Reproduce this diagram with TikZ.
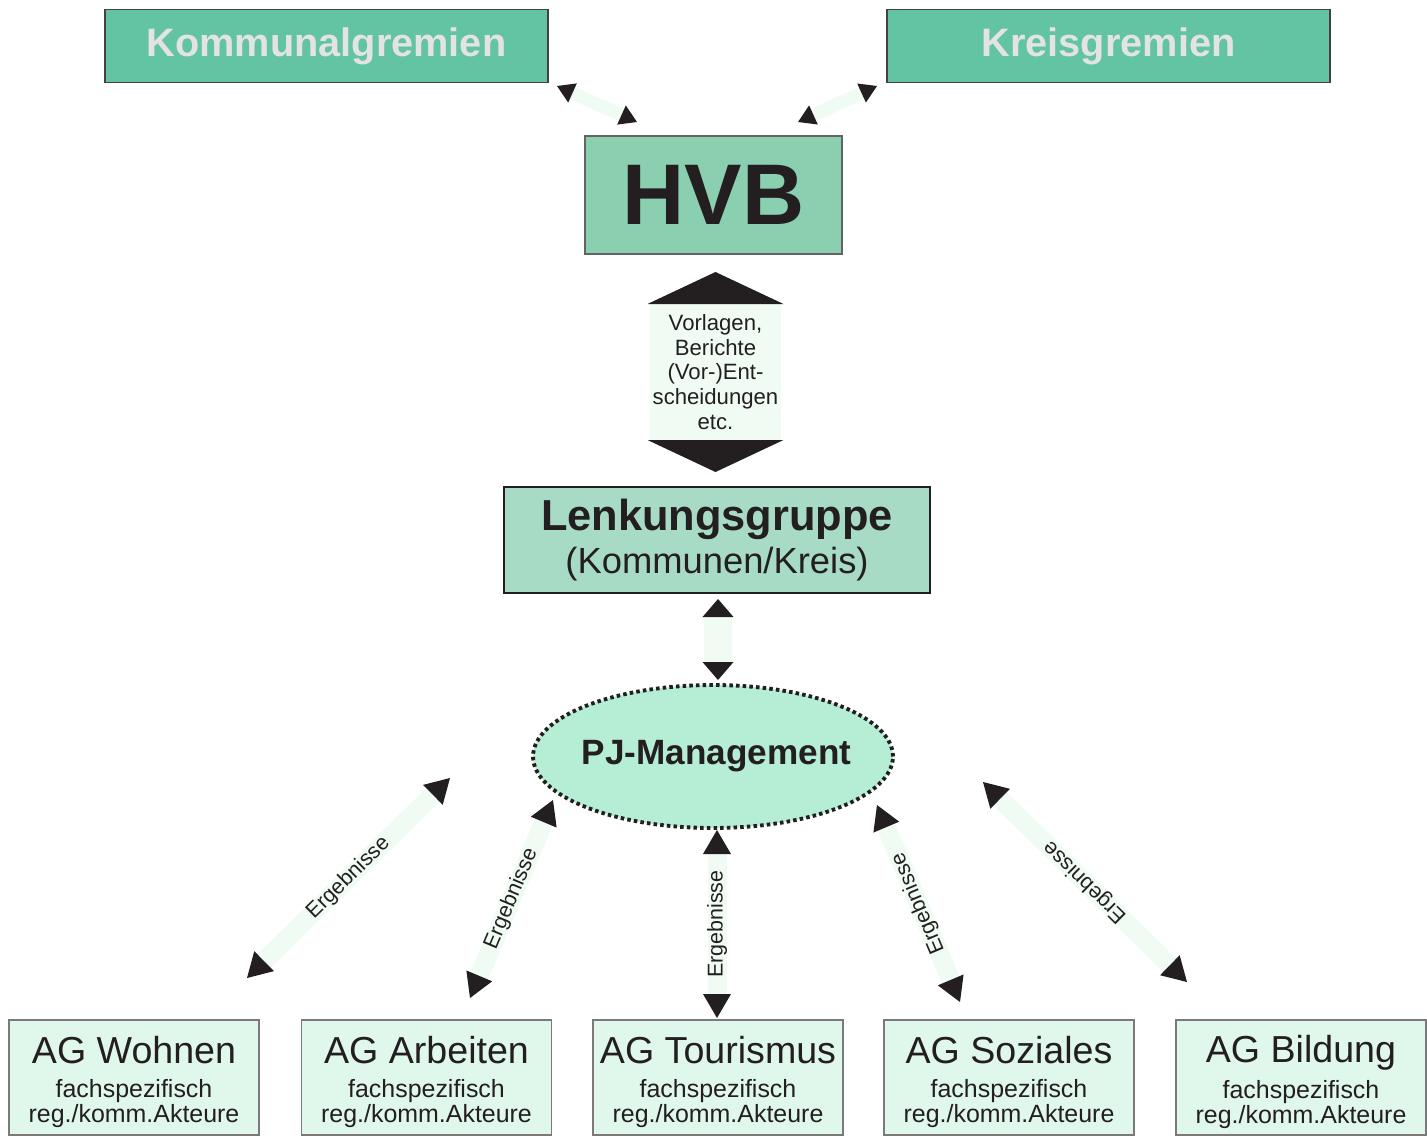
\documentclass[tikz,border=0pt]{standalone}
\usepackage{fontspec}
\setmainfont{Liberation Sans}
\usetikzlibrary{shapes.geometric,arrows.meta}

\definecolor{ink}{HTML}{231F20}
\definecolor{topfill}{HTML}{62C4A2}
\definecolor{toptext}{HTML}{E3E3E3}
\definecolor{hvbfill}{HTML}{8BCFB1}
\definecolor{lenkfill}{HTML}{A8DBC5}
\definecolor{pjfill}{HTML}{B5EDD5}
\definecolor{agfill}{HTML}{E0F7EC}
\definecolor{bandfill}{HTML}{F0FBF4}

\newcommand{\agtitle}[1]{{\fontsize{21.4}{21.4}\selectfont\rule{0pt}{20.5pt}#1}}

\tikzset{
  topbox/.style={shape=rectangle,draw=ink!85,fill=topfill,line width=0.8pt,minimum width=8.86cm,minimum height=1.46cm,inner sep=0pt,text=toptext,font=\fontsize{22.6}{24}\selectfont\bfseries},
  agbox/.style={shape=rectangle,draw=ink!60,fill=agfill,line width=0.7pt,minimum width=5cm,minimum height=2.3cm,inner sep=0pt,align=center,text=ink,font=\fontsize{14.2}{14.2}\selectfont},
  bigband/.style={draw=bandfill,line width=2.62cm,arrows={Triangle[length=0.64cm,width=2.72cm,color=ink,line width=0pt]-Triangle[length=0.64cm,width=2.72cm,color=ink,line width=0pt]}},
  midband/.style={draw=bandfill,line width=0.56cm,arrows={Triangle[length=0.36cm,width=0.62cm,color=ink,line width=0pt]-Triangle[length=0.36cm,width=0.62cm,color=ink,line width=0pt]}},
  topband/.style={draw=bandfill,line width=0.26cm,arrows={Triangle[length=0.34cm,width=0.42cm,color=ink,line width=0pt]-Triangle[length=0.34cm,width=0.42cm,color=ink,line width=0pt]}},
  lowband/.style={draw=bandfill,line width=0.38cm,arrows={Triangle[length=0.48cm,width=0.56cm,color=ink,line width=0pt]-Triangle[length=0.48cm,width=0.56cm,color=ink,line width=0pt]}},
  ergtext/.style={midway,sloped,allow upside down,inner sep=0pt,text=ink,font=\fontsize{12.2}{12.2}\selectfont}
}

\begin{document}
\begin{tikzpicture}[x=0.02cm,y=-0.02cm]
\path[use as bounding box] (0,0) rectangle (1427,1144);

% boxes
\node[topbox] (kommunal) at (326.5,46) {Kommunalgremien};
\node[topbox] (kreis) at (1108.5,46) {Kreisgremien};
\node[shape=rectangle,draw=ink!70,fill=hvbfill,line width=0.7pt,minimum width=5.14cm,minimum height=2.36cm,inner sep=0pt,text=ink,font=\fontsize{49}{49}\selectfont\bfseries] (hvb) at (713.5,195) {HVB};
\node[shape=rectangle,draw=ink,fill=lenkfill,line width=1.1pt,minimum width=8.52cm,minimum height=2.12cm,inner sep=0pt,align=center,text=ink] (lenkung) at (717,540) {{\fontsize{24.7}{24.7}\selectfont\bfseries Lenkungsgruppe}\\[3pt]{\fontsize{20.7}{24.5}\selectfont (Kommunen/Kreis)}};
\node[shape=ellipse,draw=ink,fill=pjfill,line width=2.2pt,dash pattern=on 2pt off 1.8pt,minimum width=7.2cm,minimum height=2.86cm,inner xsep=-8pt,inner ysep=0pt,text=ink,font=\fontsize{20}{20}\selectfont\bfseries] (pj) at (713,756.5) {\hspace*{4pt}PJ-Management};

\node[agbox] (wohnen) at (134,1077.5) {\agtitle{AG Wohnen}\\[4.7pt]fachspezifisch\\reg./komm.Akteure};
\node[agbox] (arbeiten) at (426.5,1077.5) {\agtitle{AG Arbeiten}\\[4.7pt]fachspezifisch\\reg./komm.Akteure};
\node[agbox] (tourismus) at (718,1077.5) {\agtitle{AG Tourismus}\\[4.7pt]fachspezifisch\\reg./komm.Akteure};
\node[agbox] (soziales) at (1009,1077.5) {\agtitle{AG Soziales}\\[4.7pt]fachspezifisch\\reg./komm.Akteure};
\node[agbox] (bildung) at (1301,1077.5) {\agtitle{AG Bildung}\\[4.7pt]fachspezifisch\\reg./komm.Akteure};

% arrow ends
\coordinate (kommunal-end) at (557,86);
\coordinate (hvb-left) at (637,122);
\coordinate (kreis-end) at (877,86);
\coordinate (hvb-right) at (798,122);
\coordinate (hvb-end) at (715.5,272);
\coordinate (lenkung-top) at (715.5,472);
\coordinate (lenkung-end) at (718,599);
\coordinate (pj-top) at (718,680);
\coordinate (wohnen-end) at (247,978);
\coordinate (pj-a) at (450,778);
\coordinate (arbeiten-end) at (470,998);
\coordinate (pj-b) at (553,800);
\coordinate (tourismus-end) at (717,1018);
\coordinate (pj-c) at (717,830);
\coordinate (soziales-end) at (960,1002);
\coordinate (pj-d) at (877,805);
\coordinate (bildung-end) at (1187,982);
\coordinate (pj-e) at (983,782);

\path [topband] (kommunal-end) -- (hvb-left);
\path [topband] (kreis-end) -- (hvb-right);
\path [bigband] (hvb-end) -- node[align=center,inner sep=0pt,text=ink,font=\fontsize{12.6}{14}\selectfont] {Vorlagen,\\Berichte\\(Vor-)Ent-\\scheidungen\\etc.} (lenkung-top);
\path [midband] (lenkung-end) -- (pj-top);
\path [lowband] (wohnen-end) -- node[ergtext] {Ergebnisse} (pj-a);
\path [lowband] (arbeiten-end) -- node[ergtext] {Ergebnisse} (pj-b);
\path [lowband] (tourismus-end) -- node[ergtext] {Ergebnisse} (pj-c);
\path [lowband] (soziales-end) -- node[ergtext] {Ergebnisse} (pj-d);
\path [lowband] (bildung-end) -- node[ergtext] {Ergebnisse} (pj-e);
\end{tikzpicture}
\end{document}
